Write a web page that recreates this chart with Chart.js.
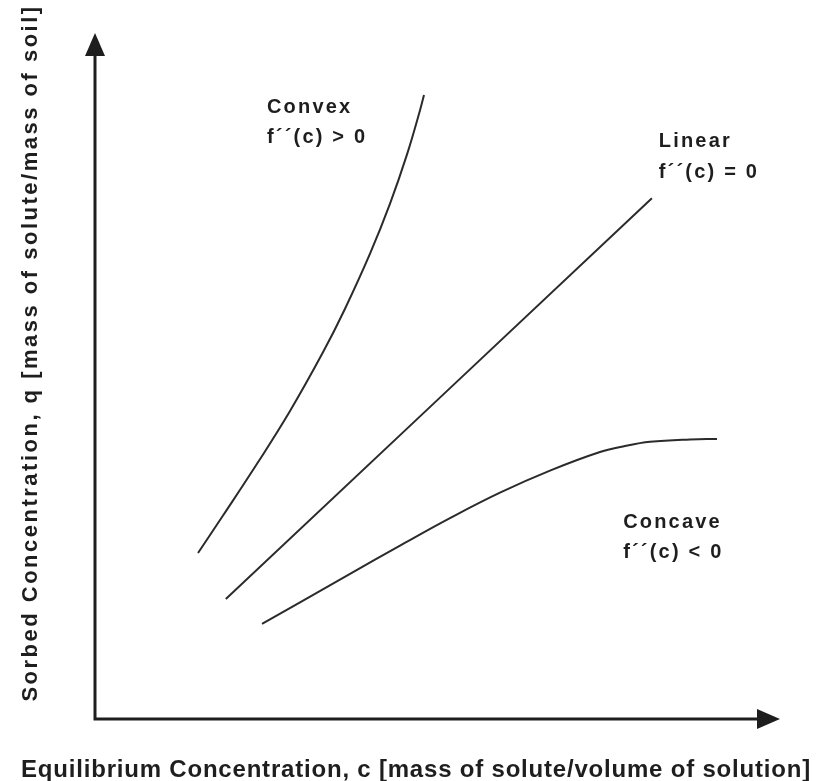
<!DOCTYPE html>
<html>
<head>
<meta charset="utf-8">
<script src="https://cdn.jsdelivr.net/npm/chart.js@4/dist/chart.umd.min.js"></script>
<style>
  body { margin: 0; background: #fff; }
  #wrap { width: 818px; height: 781px; }
</style>
</head>
<body>
<div id="wrap"><canvas id="iso" width="818" height="781"></canvas></div>
<script>
// =======================
// DATA
// =======================
const convexC = [1.504, 1.869, 2.365, 2.847, 3.328, 3.650, 4.015, 4.307, 4.555, 4.745, 4.803];
const convexQ = [2.420, 2.966, 3.720, 4.490, 5.345, 5.981, 6.783, 7.512, 8.230, 8.875, 9.096];

const linearC = [1.91, 8.13];
const linearQ = [1.75, 7.59];

const concaveC = [2.438, 2.993, 3.723, 4.453, 5.182, 5.912, 6.642, 7.372, 7.737, 8.102, 8.686, 9.080];
const concaveQ = [1.385, 1.701, 2.117, 2.528, 2.929, 3.300, 3.621, 3.892, 3.980, 4.041, 4.076, 4.082];

const xTitle = "Equilibrium Concentration, c [mass of solute/volume of solution]";
const yTitle = "Sorbed Concentration, q [mass of solute/mass of soil]";

// label text with anchor (c, q) in data units
const labels = [
    { lines: ["Convex", "f´´(c) > 0"], c: 2.51, q: [8.83, 8.40] },
    { lines: ["Linear", "f´´(c) = 0"], c: 8.23, q: [8.34, 7.89] },
    { lines: ["Concave", "f´´(c) < 0"], c: 7.71, q: [2.78, 2.35] }
];

function toPoints(xs, ys) {
    return xs.map((x, i) => ({ x: x, y: ys[i] }));
}

const INK = "#1e1e1e";

// =======================
// AXES + TEXT PLUGIN
// =======================
const decor = {
    id: "decor",
    afterDraw(chart) {
        const ctx = chart.ctx;
        const xs = chart.scales.x;
        const ys = chart.scales.y;
        const x0 = xs.getPixelForValue(0);
        const y0 = ys.getPixelForValue(0);
        const xEnd = xs.getPixelForValue(10);
        const yEnd = ys.getPixelForValue(10);

        ctx.save();
        ctx.strokeStyle = INK;
        ctx.fillStyle = INK;
        ctx.lineWidth = 3;
        ctx.lineCap = "square";

        // axis lines
        ctx.beginPath();
        ctx.moveTo(x0, yEnd + 20);
        ctx.lineTo(x0, y0);
        ctx.lineTo(xEnd - 20, y0);
        ctx.stroke();

        // arrow heads
        ctx.beginPath();
        ctx.moveTo(x0, yEnd);
        ctx.lineTo(x0 - 10, yEnd + 23);
        ctx.lineTo(x0 + 10, yEnd + 23);
        ctx.closePath();
        ctx.fill();

        ctx.beginPath();
        ctx.moveTo(xEnd, y0);
        ctx.lineTo(xEnd - 23, y0 - 10);
        ctx.lineTo(xEnd - 23, y0 + 10);
        ctx.closePath();
        ctx.fill();

        // curve labels
        ctx.font = "bold 20px 'Liberation Sans', Arial, sans-serif";
        ctx.letterSpacing = "2.2px";
        ctx.textAlign = "left";
        ctx.textBaseline = "alphabetic";
        labels.forEach(l => {
            const px = xs.getPixelForValue(l.c);
            l.lines.forEach((t, i) => {
                ctx.fillText(t, px, ys.getPixelForValue(l.q[i]));
            });
        });

        // x title
        ctx.font = "bold 24px 'Liberation Sans', Arial, sans-serif";
        ctx.letterSpacing = "0.8px";
        ctx.textAlign = "center";
        ctx.fillText(xTitle, 416, 777);

        // y title
        ctx.translate(37, 353);
        ctx.rotate(-Math.PI / 2);
        ctx.font = "bold 22px 'Liberation Sans', Arial, sans-serif";
        ctx.letterSpacing = "2.5px";
        ctx.fillText(yTitle, 0, 0);
        ctx.restore();
    }
};

// =======================
// CHART
// =======================
function lineSet(data) {
    return {
        data: data,
        showLine: true,
        borderColor: "#2b2b2b",
        borderWidth: 2,
        pointRadius: 0,
        tension: 0.4,
        fill: false
    };
}

new Chart(document.getElementById("iso"), {
    type: "scatter",
    data: {
        datasets: [
            lineSet(toPoints(convexC, convexQ)),
            lineSet(toPoints(linearC, linearQ)),
            lineSet(toPoints(concaveC, concaveQ))
        ]
    },
    options: {
        responsive: false,
        animation: false,
        layout: { padding: { left: 95, right: 38, top: 33, bottom: 62 } },
        plugins: {
            legend: { display: false },
            tooltip: { enabled: false }
        },
        scales: {
            x: { type: "linear", min: 0, max: 10, display: false },
            y: { type: "linear", min: 0, max: 10, display: false }
        }
    },
    plugins: [decor]
});
</script>
</body>
</html>
